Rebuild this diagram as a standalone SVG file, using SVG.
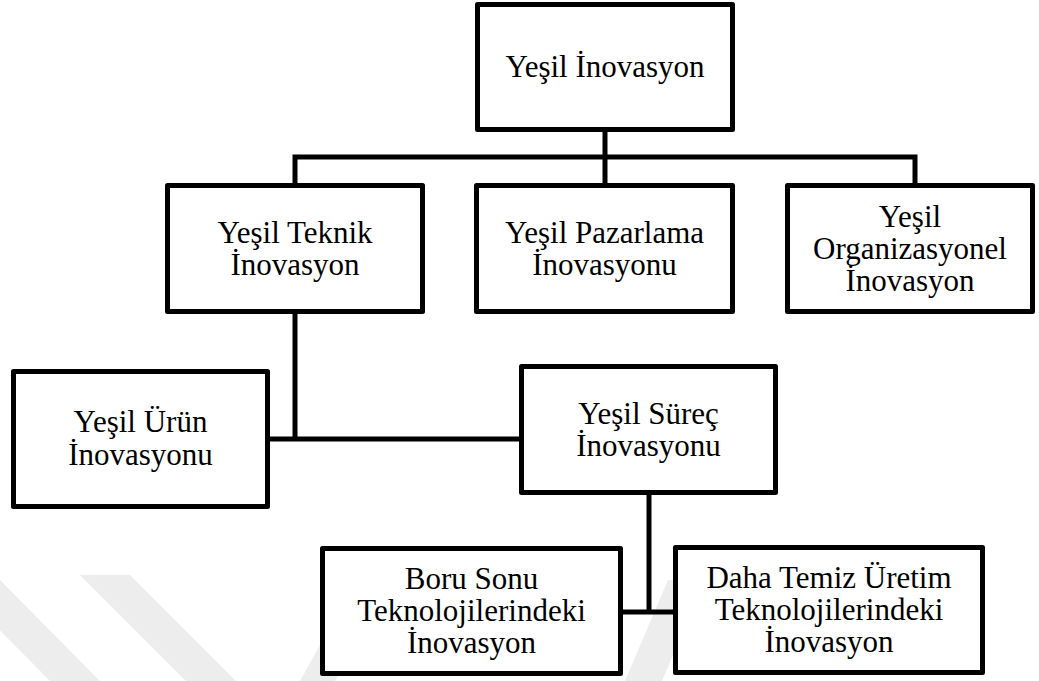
<svg xmlns="http://www.w3.org/2000/svg" width="1039" height="681" viewBox="0 0 1039 681">
<style>
.box{fill:#fff;stroke:#000;stroke-width:5;stroke-linejoin:round}
.con{fill:none;stroke:#000;stroke-width:5;stroke-linejoin:miter}
.t{font-size:31px;fill:#000;text-anchor:middle}
.wm{fill:#ededed}
</style>
<rect width="1039" height="681" fill="#fff"/>
<g id="watermark">
<polygon class="wm" points="80,575 130,575 236,681 186,681"/>
<polygon class="wm" points="-55,575 -5,575 100,681 50,681"/>
<polygon class="wm" points="300,681 335,681 380,600 345,600"/>
<polygon class="wm" points="625,681 662,681 705,580 668,580"/>
</g>
<g id="connectors">
<path class="con" d="M605,132 V183"/>
<path class="con" d="M295,183 V157 H915 V183"/>
<path class="con" d="M295,314 V439"/>
<path class="con" d="M270,439 H519"/>
<path class="con" d="M649,495 V612"/>
<path class="con" d="M623,612 H673"/>
</g>
<g font-family="Liberation Serif, DejaVu Serif, serif">
<g id="n-yesil-inovasyon">
<rect class="box" x="477.5" y="4.5" width="255" height="125"/>
<text class="t" x="605" y="77">Yeşil İnovasyon</text>
</g>
<g id="n-teknik">
<rect class="box" x="167.5" y="185.5" width="255" height="126"/>
<text class="t" x="295" y="242.5">Yeşil Teknik</text>
<text class="t" x="295" y="274.5">İnovasyon</text>
</g>
<g id="n-pazarlama">
<rect class="box" x="476.5" y="185.5" width="256" height="126"/>
<text class="t" x="604.5" y="242.5">Yeşil Pazarlama</text>
<text class="t" x="604.5" y="274.5">İnovasyonu</text>
</g>
<g id="n-organizasyonel">
<rect class="box" x="787.5" y="185.5" width="245" height="126"/>
<text class="t" x="910" y="226.5">Yeşil</text>
<text class="t" x="910" y="258.5">Organizasyonel</text>
<text class="t" x="910" y="290.5">İnovasyon</text>
</g>
<g id="n-urun">
<rect class="box" x="13.5" y="371.5" width="254" height="135"/>
<text class="t" x="140.5" y="432">Yeşil Ürün</text>
<text class="t" x="140.5" y="465">İnovasyonu</text>
</g>
<g id="n-surec">
<rect class="box" x="521.5" y="366.5" width="254" height="126"/>
<text class="t" x="648.5" y="423.5">Yeşil Süreç</text>
<text class="t" x="648.5" y="455.5">İnovasyonu</text>
</g>
<g id="n-boru">
<rect class="box" x="322.5" y="548.5" width="298" height="125"/>
<text class="t" x="471.5" y="588.5">Boru Sonu</text>
<text class="t" x="471.5" y="621">Teknolojilerindeki</text>
<text class="t" x="471.5" y="653">İnovasyon</text>
</g>
<g id="n-daha">
<rect class="box" x="675.5" y="547.5" width="307" height="125"/>
<text class="t" x="829" y="588">Daha Temiz Üretim</text>
<text class="t" x="829" y="620">Teknolojilerindeki</text>
<text class="t" x="829" y="652">İnovasyon</text>
</g>
</g>
</svg>
